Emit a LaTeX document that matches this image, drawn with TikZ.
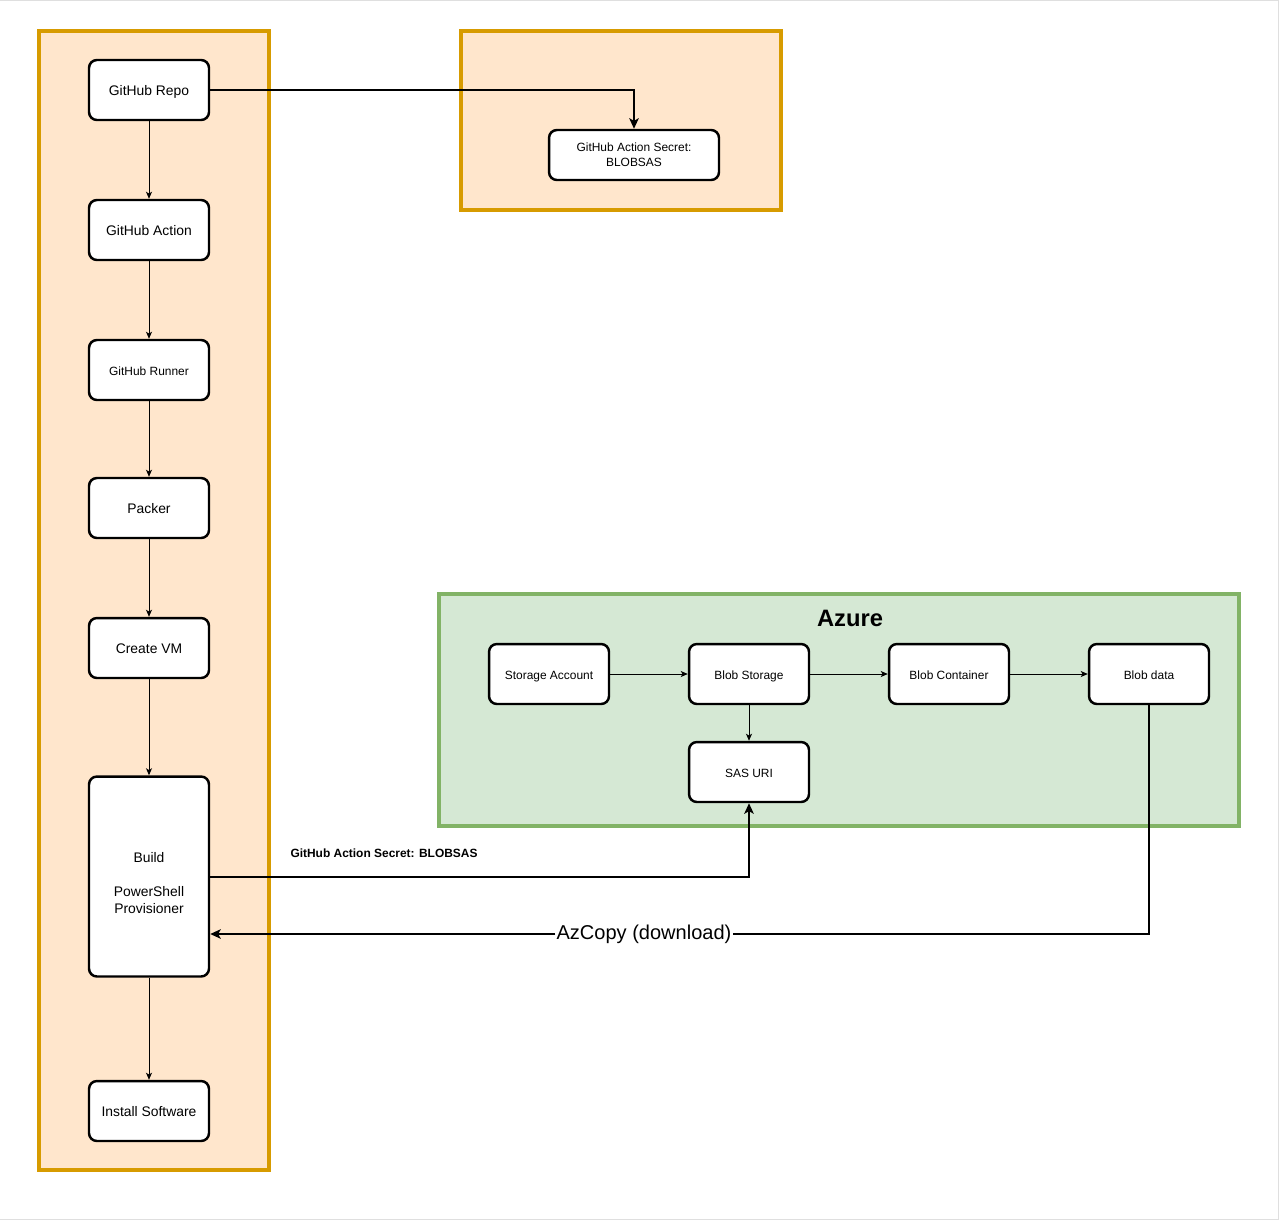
\documentclass[tikz,border=0pt]{standalone}
\usepackage{fontspec}
\setmainfont{Liberation Sans}
\usetikzlibrary{arrows.meta}
\definecolor{panelfill}{HTML}{FFE6CC}
\definecolor{paneldraw}{HTML}{D79B00}
\definecolor{azurefill}{HTML}{D5E8D4}
\definecolor{azuredraw}{HTML}{82B366}
\begin{document}
\begin{tikzpicture}[x=0.02cm,y=-0.02cm,
    panel/.style={draw=paneldraw,fill=panelfill,line width=2pt},
    azurepanel/.style={draw=azuredraw,fill=azurefill,line width=2pt},
    stepbox/.style={draw,fill=white,rounded corners=4.5pt,line width=1.4pt,
        minimum width=2.4cm,minimum height=1.2cm,inner sep=1pt,align=center,
        font=\fontsize{7.9}{9.64}\selectfont},
    smallbox/.style={stepbox,font=\fontsize{6.8}{8.5}\selectfont},
    oneline/.style={text height=1.5ex,text depth=0.4ex},
    link/.style={-{Stealth[length=4pt,width=3.4pt,inset=1pt]},line width=0.57pt},
    boldlink/.style={-{Stealth[length=6pt,width=5.4pt,inset=1.5pt]},line width=1.13pt}]
    \useasboundingbox (0,0) rectangle (1280,1221);
    \draw[gray!25,line width=0.6pt] (0,0.5)--(1278.5,0.5)--(1278.5,1219.5)--(0,1219.5);
    % containers
    \draw[panel] (39,31) rectangle (269,1170);
    \draw[panel] (461,31) rectangle (781,210);
    \draw[azurepanel] (439,594) rectangle (1239,826);
    \node[font=\bfseries\fontsize{13.5}{16}\selectfont] (azure) at (850,618) {Azure};
    % left column
    \node[stepbox,oneline] (repo) at (149,90) {GitHub Repo};
    \node[stepbox,oneline] (action) at (149,230) {GitHub Action};
    \node[smallbox,oneline] (runner) at (149,370) {GitHub Runner};
    \node[stepbox,oneline] (packer) at (149,508) {Packer};
    \node[stepbox,oneline] (vm) at (149,648) {Create VM};
    \node[stepbox,minimum height=4cm] (build) at (149,876.5) {\strut\\Build\\~\\PowerShell\\Provisioner\strut};
    \node[stepbox,oneline] (install) at (149,1111) {Install Software};
    \node[smallbox,minimum width=3.4cm,minimum height=1cm] (secret) at (634,155) {GitHub Action Secret:\\BLOBSAS};
    % azure
    \node[smallbox,oneline] (account) at (549,674) {Storage Account};
    \node[smallbox,oneline] (blobstore) at (749,674) {Blob Storage};
    \node[smallbox,oneline] (container) at (949,674) {Blob Container};
    \node[smallbox,oneline] (blobdata) at (1149,674) {Blob data};
    \node[smallbox,oneline] (sas) at (749,772) {SAS URI};
    % labels
    \node[font=\bfseries\fontsize{6.8}{8}\selectfont] (secretlabel) at (384,853) {GitHub Action Secret: BLOBSAS};
    \node[fill=white,inner sep=0.5pt,font=\fontsize{11.4}{13}\selectfont] (azcopy) at (644,934) {AzCopy (download)};
    \coordinate (copyin) at (build.east |- azcopy.west);
    % connectors
    \draw[boldlink] (repo.east) -| (secret.north);
    \draw[link] (repo) -- (action);
    \draw[link] (action) -- (runner);
    \draw[link] (runner) -- (packer);
    \draw[link] (packer) -- (vm);
    \draw[link] (vm) -- (build);
    \draw[link] (build) -- (install);
    \draw[link] (account) -- (blobstore);
    \draw[link] (blobstore) -- (container);
    \draw[link] (container) -- (blobdata);
    \draw[link] (blobstore) -- (sas);
    \draw[boldlink] (build.east) -| (sas.south);
    \draw[line width=1.13pt] (blobdata.south) |- (azcopy.east);
    \draw[boldlink] (azcopy.west) -- (copyin);
\end{tikzpicture}
\end{document}
